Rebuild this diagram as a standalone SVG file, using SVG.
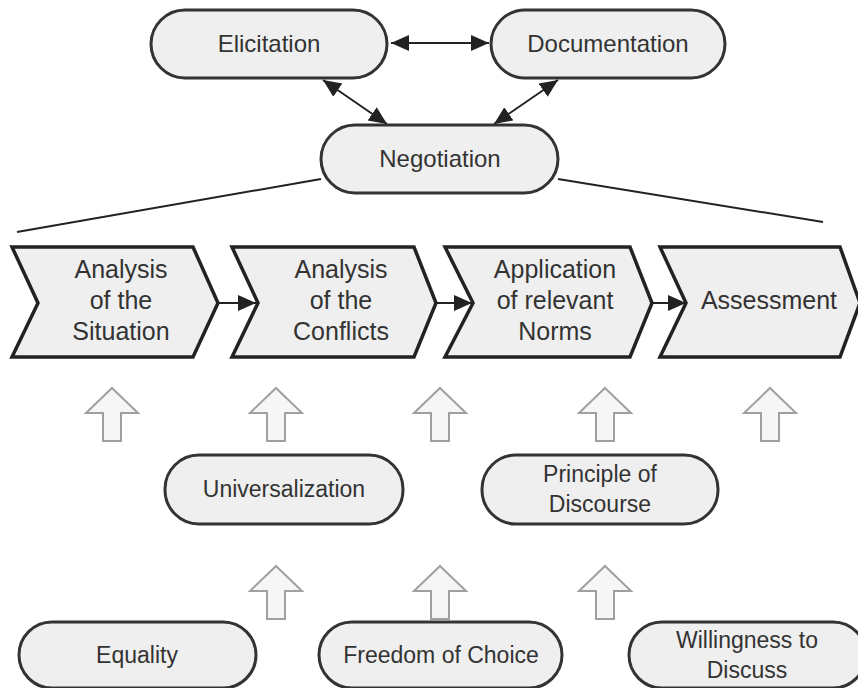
<svg xmlns="http://www.w3.org/2000/svg" width="858" height="688" viewBox="0 0 858 688">
<style>
.box{fill:#efefef;stroke:#333;stroke-width:3}
.chev{fill:#efefef;stroke:#222;stroke-width:3.5;stroke-linejoin:miter}
.t{font-family:"Liberation Sans",Arial,sans-serif;font-size:24px;fill:#333;text-anchor:middle}
.tc{font-family:"Liberation Sans",Arial,sans-serif;font-size:25px;fill:#333;text-anchor:middle}
.ts{font-family:"Liberation Sans",Arial,sans-serif;font-size:23px;fill:#333;text-anchor:middle}
.con{stroke:#222;stroke-width:2;fill:none}
.blk{fill:#f6f6f6;stroke:#a0a0a0;stroke-width:2}
</style>
<defs>
<marker id="ah" markerUnits="userSpaceOnUse" markerWidth="20" markerHeight="18" refX="18" refY="8" orient="auto-start-reverse">
<path d="M0,0 L18,8 L0,16 z" fill="#222"/>
</marker>
</defs>
<g id="connectors">
<line class="con" x1="391" y1="43" x2="489" y2="43" marker-start="url(#ah)" marker-end="url(#ah)"/>
<line class="con" x1="323" y1="80" x2="387" y2="124" marker-start="url(#ah)" marker-end="url(#ah)"/>
<line class="con" x1="558" y1="80" x2="494" y2="124" marker-start="url(#ah)" marker-end="url(#ah)"/>
<line class="con" x1="321" y1="179" x2="17" y2="232"/>
<line class="con" x1="558" y1="179" x2="823" y2="222"/>
<line class="con" x1="219" y1="303" x2="256" y2="303" marker-end="url(#ah)"/>
<line class="con" x1="437" y1="303" x2="472" y2="303" marker-end="url(#ah)"/>
<line class="con" x1="653" y1="303" x2="686" y2="303" marker-end="url(#ah)"/>
</g>
<g id="elicitation"><rect class="box" x="151" y="10" width="236" height="68" rx="34"/><text class="t" x="269" y="52">Elicitation</text></g>
<g id="documentation"><rect class="box" x="491" y="10" width="234" height="68" rx="34"/><text class="t" x="608" y="52">Documentation</text></g>
<g id="negotiation"><rect class="box" x="321" y="125" width="237" height="68" rx="34"/><text class="t" x="440" y="167">Negotiation</text></g>
<g id="analysis-situation"><path class="chev" d="M12,247 L193,247 L218,303 L193,357 L12,357 L38,303 Z"/><text class="tc" x="121" y="278">Analysis</text><text class="tc" x="121" y="309">of the</text><text class="tc" x="121" y="340">Situation</text></g>
<g id="analysis-conflicts"><path class="chev" d="M232,247 L414,247 L436,303 L414,357 L232,357 L258,303 Z"/><text class="tc" x="341" y="278">Analysis</text><text class="tc" x="341" y="309">of the</text><text class="tc" x="341" y="340">Conflicts</text></g>
<g id="application-norms"><path class="chev" d="M445,247 L630,247 L652,303 L630,357 L445,357 L473,303 Z"/><text class="tc" x="555" y="278">Application</text><text class="tc" x="555" y="309">of relevant</text><text class="tc" x="555" y="340">Norms</text></g>
<g id="assessment"><path class="chev" d="M660,247 L840,247 L860,303 L840,357 L660,357 L686,303 Z"/><text class="tc" x="769" y="309">Assessment</text></g>
<g id="up-arrows">
<path class="blk" d="M112,388 L138,413 L121,413 L121,441 L103,441 L103,413 L86,413 Z"/>
<path class="blk" d="M276,388 L302,413 L285,413 L285,441 L267,441 L267,413 L250,413 Z"/>
<path class="blk" d="M440,388 L466,413 L449,413 L449,441 L431,441 L431,413 L414,413 Z"/>
<path class="blk" d="M605,388 L631,413 L614,413 L614,441 L596,441 L596,413 L579,413 Z"/>
<path class="blk" d="M770,388 L796,413 L779,413 L779,441 L761,441 L761,413 L744,413 Z"/>
<path class="blk" d="M276,566 L302,591 L285,591 L285,619 L267,619 L267,591 L250,591 Z"/>
<path class="blk" d="M440,566 L466,591 L449,591 L449,619 L431,619 L431,591 L414,591 Z"/>
<path class="blk" d="M605,566 L631,591 L614,591 L614,619 L596,619 L596,591 L579,591 Z"/>
</g>
<g id="universalization"><rect class="box" x="165" y="455" width="238" height="69" rx="34"/><text class="ts" x="284" y="497">Universalization</text></g>
<g id="principle-discourse"><rect class="box" x="482" y="455" width="236" height="69" rx="34"/><text class="ts" x="600" y="482">Principle of</text><text class="ts" x="600" y="512">Discourse</text></g>
<g id="equality"><rect class="box" x="19" y="622" width="237" height="66" rx="33"/><text class="ts" x="137" y="663">Equality</text></g>
<g id="freedom-choice"><rect class="box" x="319" y="622" width="243" height="66" rx="33"/><text class="ts" x="441" y="663">Freedom of Choice</text></g>
<g id="willingness"><rect class="box" x="629" y="622" width="237" height="66" rx="33"/><text class="ts" x="747" y="648">Willingness to</text><text class="ts" x="747" y="678">Discuss</text></g>
</svg>
